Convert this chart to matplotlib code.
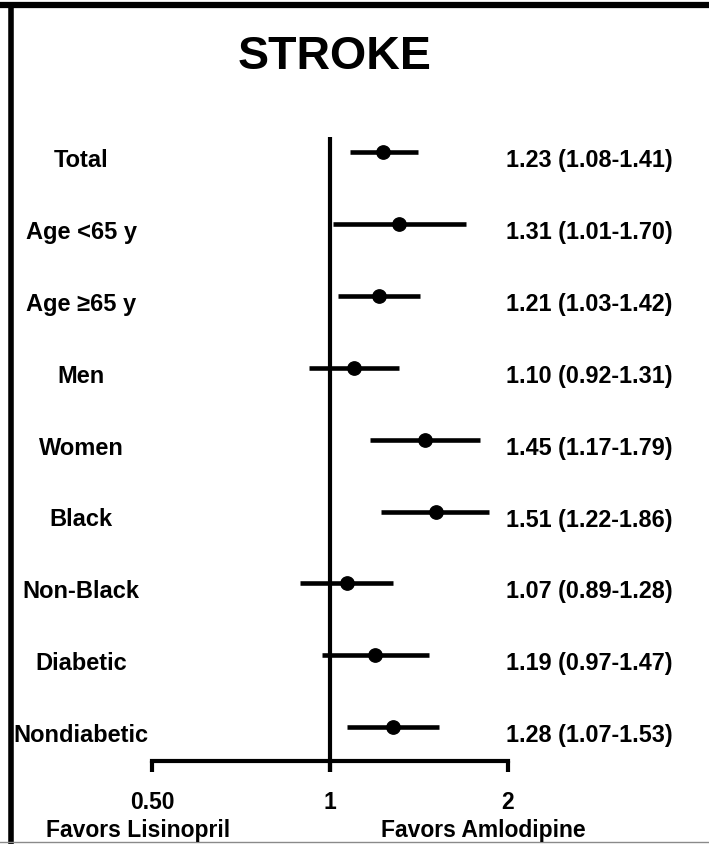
import matplotlib
matplotlib.use("Agg")
import matplotlib.pyplot as plt
from matplotlib.lines import Line2D
from matplotlib.transforms import offset_copy, blended_transform_factory
import numpy as np

plt.rcParams['font.family'] = ['Liberation Sans', 'DejaVu Sans']
plt.rcParams['font.weight'] = 'bold'

# Subgroup hazard ratios with 95% confidence intervals
labels = ["Total", "Age <65 y", "Age \u226565 y", "Men", "Women", "Black",
          "Non-Black", "Diabetic", "Nondiabetic"]
hr = [1.23, 1.31, 1.21, 1.10, 1.45, 1.51, 1.07, 1.19, 1.28]
ci_low = [1.08, 1.01, 1.03, 0.92, 1.17, 1.22, 0.89, 0.97, 1.07]
ci_high = [1.41, 1.70, 1.42, 1.31, 1.79, 1.86, 1.28, 1.47, 1.53]
tick_values = [0.5, 1, 2]
tick_labels = ["0.50", "1", "2"]
title = "STROKE"
left_note = "Favors Lisinopril"
right_note = "Favors Amlodipine"

W, H, DPI = 709, 845, 100
fig = plt.figure(figsize=(W / DPI, H / DPI), dpi=DPI)
ax = fig.add_axes([0, 0, 1, 1])
ax.set_xscale('log', base=2)

# pixel layout: HR=1 at x=330, one doubling = 178 px; rows start at y=153, 71.9 px apart
x0, per_doubling = 330.0, 178.0
y0, row_h = 153.0, 71.9
ax.set_xlim(2 ** (-x0 / per_doubling), 2 ** ((W - x0) / per_doubling))
ax.set_ylim((H - y0) / row_h, -y0 / row_h)
ax.axis('off')


def row_of(py):
    return (py - y0) / row_h


n = len(labels)
rows = np.arange(n)

# reference line at HR = 1
ax.plot([1, 1], [row_of(138), row_of(773)], color='black', lw=3.0,
        solid_capstyle='butt', zorder=2)
# bottom axis with downward ticks
ax.plot([tick_values[0], tick_values[-1]], [row_of(762), row_of(762)],
        color='black', lw=3.0, solid_capstyle='projecting', zorder=2)
for tv in tick_values:
    ax.plot([tv, tv], [row_of(762), row_of(773)], color='black', lw=3.0,
            solid_capstyle='butt', zorder=2)

# confidence intervals and point estimates
for i in range(n):
    ax.plot([ci_low[i], ci_high[i]], [rows[i], rows[i]], color='black', lw=3.3,
            solid_capstyle='butt', zorder=3)
ax.plot(hr, rows, 'o', color='black', markersize=9.6, zorder=4)

# text
txt_off = offset_copy(ax.transData, fig=fig, x=0, y=-14, units='dots')
lab_tr = blended_transform_factory(ax.transAxes, txt_off)
for i in range(n):
    ax.text(81 / W, rows[i], labels[i], transform=lab_tr, ha='center',
            va='baseline', fontsize=17, fontweight='bold')
    ax.text(506 / W, rows[i], f"{hr[i]:.2f} ({ci_low[i]:.2f}-{ci_high[i]:.2f})",
            transform=lab_tr, ha='left', va='baseline', fontsize=16.8,
            fontweight='bold')

for tv, tl in zip(tick_values, tick_labels):
    ax.text(tv, row_of(809), tl, ha='center', va='baseline', fontsize=16.5,
            fontweight='bold')

fig.text(138 / W, 1 - 837 / H, left_note, ha='center', va='baseline',
         fontsize=16.5, fontweight='bold')
fig.text(483 / W, 1 - 837 / H, right_note, ha='center', va='baseline',
         fontsize=16.5, fontweight='bold')

fig.text(335 / W, 1 - 69 / H, title, ha='center', va='baseline',
         fontsize=33.5, fontweight='bold')

# panel frame: heavy top and left rules, thin grey bottom rule
fig.add_artist(Line2D([0, 1], [1 - 6 / H, 1 - 6 / H], color='black', lw=4.5,
                      solid_capstyle='butt', transform=fig.transFigure))
fig.add_artist(Line2D([10.5 / W, 10.5 / W], [0, 1 - 4 / H], color='black',
                      lw=4.0, solid_capstyle='butt', transform=fig.transFigure))
fig.add_artist(Line2D([0, 1], [1 - 842.5 / H, 1 - 842.5 / H], color='#8a8a8a',
                      lw=1.0, transform=fig.transFigure))

fig.savefig("out.png", dpi=DPI)
